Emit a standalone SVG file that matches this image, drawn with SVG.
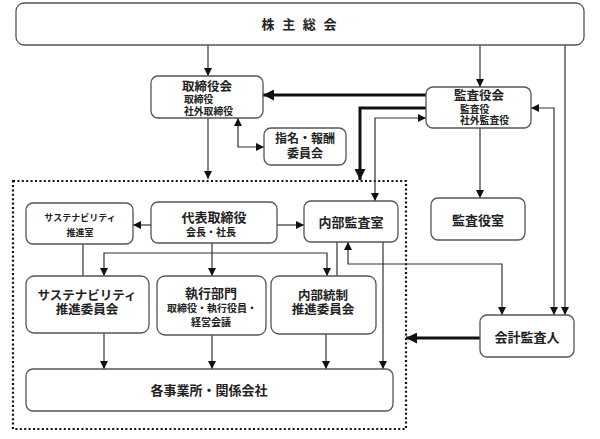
<svg xmlns="http://www.w3.org/2000/svg" width="600" height="439" viewBox="0 0 600 439">
<defs>
<style>
.box{fill:#fff;stroke:#555;stroke-width:1.3}
.dot{fill:none;stroke:#111;stroke-width:2.2;stroke-dasharray:2 2.4}
.ln{fill:none;stroke:#333;stroke-width:1.2}
.thk{fill:none;stroke:#111;stroke-width:3}
text{font-family:"Liberation Sans","Noto Sans CJK JP",sans-serif;fill:#222;dominant-baseline:central;font-weight:bold}
.t{font-size:13px;text-anchor:middle}
.t2{font-size:12.5px;text-anchor:middle}
.s{font-size:9.8px}
.sm{font-size:10px;text-anchor:middle}
.xs{font-size:9px;text-anchor:middle}
.m{font-size:12px;text-anchor:middle}
</style>
<marker id="a" viewBox="0 0 10 10" refX="10" refY="5" markerWidth="8" markerHeight="8" markerUnits="userSpaceOnUse" orient="auto-start-reverse"><path d="M0,0 L10,5 L0,10 z" fill="#111"/></marker>
<marker id="b" viewBox="0 0 10 10" refX="10" refY="5" markerWidth="11" markerHeight="11" markerUnits="userSpaceOnUse" orient="auto-start-reverse"><path d="M0,0 L10,5 L0,10 z" fill="#111"/></marker>
</defs>
<rect width="600" height="439" fill="#fff"/>
<rect class="dot" x="13" y="181" width="393" height="248"/>
<g id="connectors">
<path class="ln" d="M208,45 V76" marker-end="url(#a)"/>
<path class="ln" d="M480,45 V87" marker-end="url(#a)"/>
<path class="ln" d="M565,45 V315" marker-end="url(#a)"/>
<path class="thk" d="M426,95 H263" marker-end="url(#b)"/>
<path class="thk" d="M426,108 H360 V180" marker-end="url(#b)"/>
<path class="ln" d="M426,118 H375 V201" marker-start="url(#a)" marker-end="url(#a)"/>
<path class="ln" d="M531,108 H554 V315" marker-start="url(#a)" marker-end="url(#a)"/>
<path class="ln" d="M480,128 V198" marker-end="url(#a)"/>
<path class="ln" d="M208,118 V179" marker-end="url(#a)"/>
<path class="ln" d="M238,118 V147 H264" marker-start="url(#a)" marker-end="url(#a)"/>
<path class="ln" d="M151,225 H133" marker-end="url(#a)"/>
<path class="ln" d="M277,225 H304" marker-end="url(#a)"/>
<path class="ln" d="M212,243 V276" marker-end="url(#a)"/>
<path class="ln" d="M104,276 V253 H327 V276" marker-start="url(#a)" marker-end="url(#a)"/>
<path class="ln" d="M83,244 V276"/>
<path class="ln" d="M337,242 V276"/>
<path class="ln" d="M348,242 V264 H502 V315" marker-start="url(#a)" marker-end="url(#a)"/>
<path class="ln" d="M383,242 V369" marker-end="url(#a)"/>
<path class="ln" d="M104,333 V369" marker-end="url(#a)"/>
<path class="ln" d="M212,335 V369" marker-end="url(#a)"/>
<path class="ln" d="M326,334 V369" marker-end="url(#a)"/>
<path class="thk" d="M480,338 H406" marker-end="url(#b)"/>
</g>
<g id="shareholders"><rect class="box" x="16" y="3" width="568" height="42" rx="8"/><text class="t" x="300" y="24" letter-spacing="2">株 主 総 会</text></g>
<g id="board"><rect class="box" x="151" y="76" width="112" height="42" rx="7"/><text class="t2" x="207" y="86.5">取締役会</text><text class="s" x="184" y="99.8">取締役</text><text class="s" x="184" y="111.2">社外取締役</text></g>
<g id="auditors"><rect class="box" x="426" y="87" width="105" height="41" rx="7"/><text class="t2" x="479" y="96.3">監査役会</text><text class="s" x="460" y="109">監査役</text><text class="s" x="460" y="120.1">社外監査役</text></g>
<g id="nomination"><rect class="box" x="264" y="128" width="82" height="37" rx="7"/><text class="m" x="305" y="139">指名・報酬</text><text class="m" x="305" y="154">委員会</text></g>
<g id="auditor-office"><rect class="box" x="431" y="198" width="94" height="42" rx="7"/><text class="t" x="478" y="220">監査役室</text></g>
<g id="sus-office"><rect class="box" x="26" y="203" width="107" height="41" rx="7"/><text class="xs" x="80" y="218">サステナビリティ</text><text class="xs" x="80" y="233">推進室</text></g>
<g id="ceo"><rect class="box" x="151" y="202" width="126" height="41" rx="7"/><text class="t" x="214" y="217">代表取締役</text><text class="sm" x="211" y="232">会長・社長</text></g>
<g id="internal-audit"><rect class="box" x="304" y="201" width="94" height="41" rx="7"/><text class="t" x="351" y="222">内部監査室</text></g>
<g id="sus-committee"><rect class="box" x="26" y="276" width="123" height="57" rx="8"/><text class="t2" x="87" y="295.6">サステナビリティ</text><text class="t2" x="87" y="309.9">推進委員会</text></g>
<g id="execution"><rect class="box" x="157" y="276" width="109" height="59" rx="8"/><text class="t" x="211" y="293">執行部門</text><text class="sm" x="212" y="308">取締役・執行役員・</text><text class="sm" x="211" y="322">経営会議</text></g>
<g id="internal-control"><rect class="box" x="271" y="276" width="105" height="58" rx="8"/><text class="t2" x="323" y="295.8">内部統制</text><text class="t2" x="323" y="310">推進委員会</text></g>
<g id="accounting-auditor"><rect class="box" x="480" y="315" width="94" height="42" rx="7"/><text class="t" x="527" y="337">会計監査人</text></g>
<g id="offices"><rect class="box" x="26" y="369" width="367" height="42" rx="7"/><text class="t" x="209" y="390">各事業所・関係会社</text></g>
</svg>
